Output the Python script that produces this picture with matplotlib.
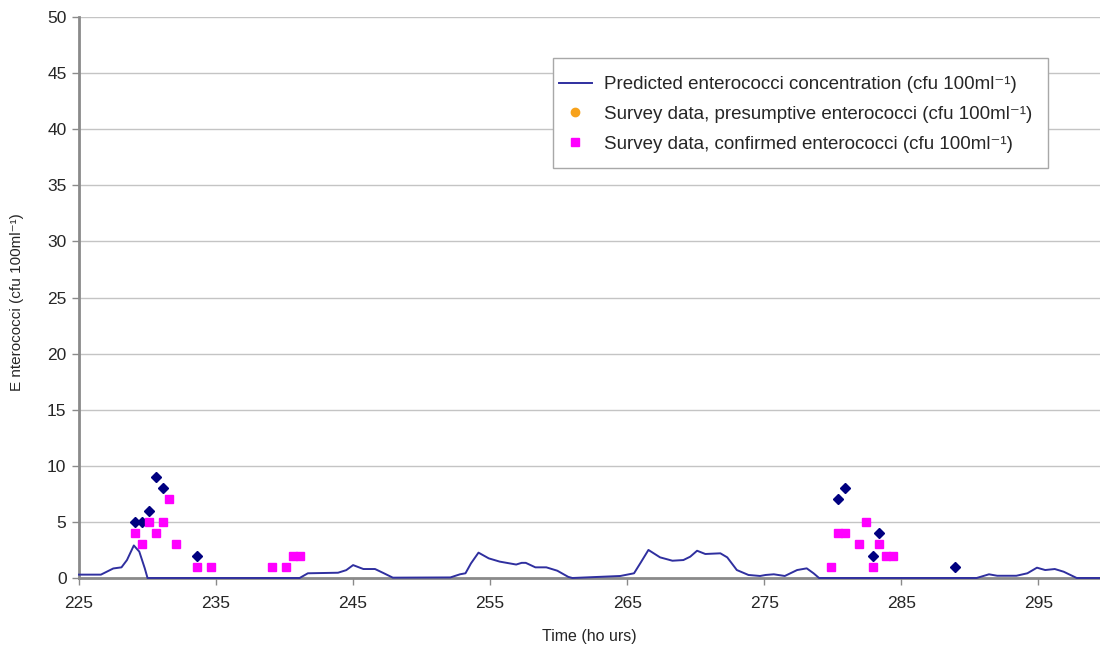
import matplotlib
matplotlib.use("Agg")
import matplotlib.pyplot as plt
from matplotlib.lines import Line2D
from matplotlib.patches import Rectangle

plt.rcParams['font.family'] = ['Liberation Sans', 'DejaVu Sans']

# Predicted enterococci concentration (model output)
pred_hours = [225.0, 226.6, 227.5, 228.1, 228.5, 229.0, 229.4, 229.8, 230.0,
              241.1, 241.7, 243.9, 244.5, 245.0, 245.75, 246.6, 247.2, 247.9,
              252.1, 252.8, 253.2, 253.6, 254.15, 254.9, 255.7, 256.9, 257.3,
              257.6, 258.3, 259.1, 259.9, 260.7, 261.0,
              264.5, 265.5, 266.0, 266.55, 267.4, 268.3, 269.1, 269.6, 270.1,
              270.7, 271.8, 272.3, 273.0, 273.85, 274.7, 275.1, 275.7, 276.5,
              277.4, 278.1, 278.6, 279.0,
              290.5, 291.4, 292.0, 293.4, 294.2, 294.9, 295.5, 296.2, 296.85,
              297.8, 299.5]
pred_conc = [0.3, 0.3, 0.85, 0.95, 1.6, 2.9, 2.35, 0.86, 0.0,
             0.0, 0.42, 0.47, 0.7, 1.15, 0.8, 0.8, 0.45, 0.03,
             0.05, 0.33, 0.42, 1.3, 2.26, 1.75, 1.46, 1.2, 1.35,
             1.35, 0.95, 0.95, 0.65, 0.1, 0.0,
             0.18, 0.42, 1.4, 2.5, 1.84, 1.54, 1.6, 1.9, 2.43,
             2.14, 2.2, 1.84, 0.71, 0.27, 0.18, 0.27, 0.33, 0.18,
             0.71, 0.86, 0.42, 0.0,
             0.0, 0.33, 0.2, 0.2, 0.42, 0.92, 0.71, 0.8, 0.56,
             0.0, 0.0]

# Survey data, presumptive enterococci
presumptive_hours = []
presumptive_conc = []

# Survey data, confirmed enterococci
confirmed_hours = [229.1, 229.6, 230.1, 230.6, 231.1, 231.6, 232.1, 233.6, 234.6,
                   239.1, 240.1, 240.6, 241.1,
                   279.9, 280.4, 280.9, 281.9, 282.4, 282.9, 283.4, 283.9, 284.4]
confirmed_conc = [4, 3, 5, 4, 5, 7, 3, 1, 1,
                  1, 1, 2, 2,
                  1, 4, 4, 3, 5, 1, 3, 2, 2]

# Additional survey samples
other_hours = [229.1, 229.6, 230.1, 230.6, 231.1, 233.6,
               280.4, 280.9, 282.9, 283.4, 288.9]
other_conc = [5, 5, 6, 9, 8, 2,
              7, 8, 2, 4, 1]

x_ticks = [225, 235, 245, 255, 265, 275, 285, 295]
y_ticks = [0, 5, 10, 15, 20, 25, 30, 35, 40, 45, 50]

W, H = 1100, 648
fig = plt.figure(figsize=(W / 100, H / 100), dpi=100)
ax = fig.add_axes([79 / W, (H - 578) / H, (W - 79) / W, (578 - 17) / H])

ax.set_xlim(225, 299.5)
ax.set_ylim(0, 50)

for y in y_ticks[1:]:
    ax.axhline(y, color='#c4c4c4', lw=1.0, zorder=0)

line_color = '#2f2f9f'
ax.plot(pred_hours, pred_conc, color=line_color, lw=1.4, zorder=4, clip_on=False,
        solid_joinstyle='round')
ax.plot(presumptive_hours, presumptive_conc, 'o', color='#f7a21b', ms=6, zorder=5)
ax.plot(other_hours, other_conc, 'D', color='#000080', ms=4.8, mec='#000080',
        zorder=5, clip_on=False)
ax.plot(confirmed_hours, confirmed_conc, 's', color='#ff00ff', ms=5.5,
        mec='#ff00ff', zorder=6, clip_on=False)

for side in ('top', 'right'):
    ax.spines[side].set_visible(False)
for side in ('left', 'bottom'):
    ax.spines[side].set_color('#8a8a8a')
    ax.spines[side].set_linewidth(2.0)
ax.spines['bottom'].set_zorder(3)

ax.set_xticks(x_ticks)
ax.set_yticks(y_ticks)
ax.tick_params(axis='both', colors='#8a8a8a', labelcolor='#262626',
               labelsize=12.5, length=5, width=1, direction='out')
ax.tick_params(axis='x', pad=8)
ax.tick_params(axis='y', pad=4)

fig.text(0.5 * (79 + W) / W, (H - 636) / H, 'Time (ho urs)', ha='center',
         va='center', fontsize=11.5, color='#262626')
fig.text(17 / W, (H - 302) / H, 'E nterococci (cfu 100ml\u207b\u00b9)', ha='center',
         va='center', rotation=90, fontsize=11, color='#262626')

# Legend box
fig.patches.append(Rectangle((553 / W, (H - 168) / H), 495 / W, 110 / H,
                             transform=fig.transFigure, facecolor='white',
                             edgecolor='#a8a8a8', lw=1.0, zorder=2))

handles = [
    Line2D([], [], color=line_color, lw=1.4),
    Line2D([], [], ls='none', marker='o', color='#f7a21b', ms=6),
    Line2D([], [], ls='none', marker='s', color='#ff00ff', ms=5.5),
]
labels = [
    'Predicted enterococci concentration (cfu 100ml\u207b\u00b9)',
    'Survey data, presumptive enterococci (cfu 100ml\u207b\u00b9)',
    'Survey data, confirmed enterococci (cfu 100ml\u207b\u00b9)',
]
leg = fig.legend(handles, labels, loc='upper left',
                 bbox_to_anchor=(559 / W, (H - 76) / H), borderaxespad=0,
                 borderpad=0, fontsize=13.5, frameon=False,
                 handlelength=1.75, handletextpad=0.65, labelspacing=0.68)
leg.set_zorder(3)
for t in leg.get_texts():
    t.set_color('#262626')

fig.savefig('out.png', dpi=100)
